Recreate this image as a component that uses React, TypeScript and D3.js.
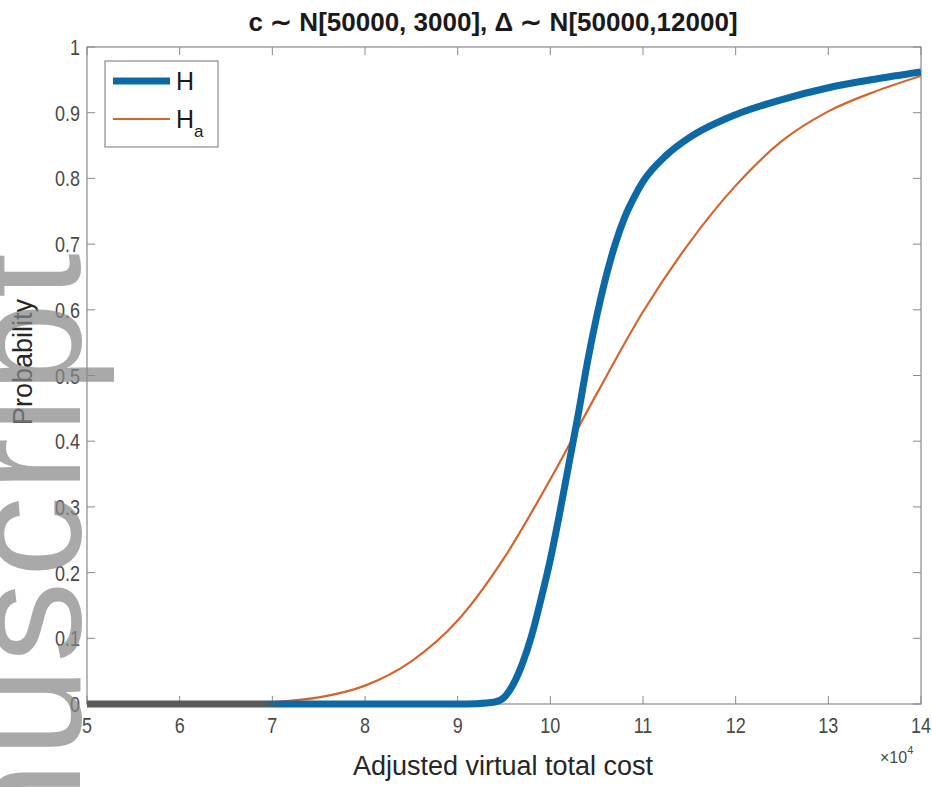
import React from "react";
import * as d3 from "d3";

const TITLE = "c \u223C N[50000, 3000], \u0394 \u223C N[50000,12000]";
const X_LABEL = "Adjusted virtual total cost";
const Y_LABEL = "Probability";
const WATERMARK = "Manuscript";

const X_TICKS = [50000, 60000, 70000, 80000, 90000, 100000, 110000, 120000, 130000, 140000];
const Y_TICKS = [0, 0.1, 0.2, 0.3, 0.4, 0.5, 0.6, 0.7, 0.8, 0.9, 1];

const H_X = [50000, 60000, 70000, 80000, 90000, 92000, 94000, 95000, 96000, 97000, 98000, 99000,
  100000, 101000, 102000, 103000, 104000, 105000, 106000, 107000, 108000, 109000, 110000,
  112500, 115000, 120000, 125000, 130000, 135000, 140000];
const H_Y = [0, 0, 0, 0, 0, 0.0005, 0.003, 0.01, 0.03, 0.062, 0.105, 0.16,
  0.22, 0.29, 0.365, 0.44, 0.52, 0.59, 0.65, 0.7, 0.74, 0.77, 0.795,
  0.835, 0.862, 0.897, 0.92, 0.938, 0.951, 0.962];

const HA_X = [50000, 60000, 65000, 70000, 75000, 80000, 85000, 90000, 95000, 100000, 105000,
  110000, 115000, 120000, 125000, 130000, 135000, 140000];
const HA_Y = [0, 0, 0.001, 0.003, 0.01, 0.028, 0.065, 0.127, 0.222, 0.342, 0.472,
  0.597, 0.702, 0.789, 0.857, 0.902, 0.932, 0.956];

const W = 932;
const H = 787;
const M = { left: 87, right: 921, top: 47, bottom: 704 };
const BLUE = "#0d68a6";
const ORANGE = "#d4652c";

export default function App() {
  const x = d3.scaleLinear().domain([50000, 140000]).range([M.left, M.right]);
  const y = d3.scaleLinear().domain([0, 1]).range([M.bottom, M.top]);
  const line = d3.line<[number, number]>()
    .x((d) => x(d[0]))
    .y((d) => y(d[1]))
    .curve(d3.curveMonotoneX);
  const hPath = line(H_X.map((v, i) => [v, H_Y[i]] as [number, number])) || "";
  const haPath = line(HA_X.map((v, i) => [v, HA_Y[i]] as [number, number])) || "";
  const tickLen = 8;
  const tickFont = "Helvetica, Arial, 'Liberation Sans', sans-serif";
  const fmtX = (v: number) => String(v / 10000);
  const fmtY = (v: number) => (v === 0 ? "0" : v === 1 ? "1" : v.toFixed(1));
  const gStart = x(69000);
  const gEnd = x(71000);

  return (
    <svg width={W} height={H} style={{ position: "absolute", left: 0, top: 0, background: "#fff" }}
      fontFamily={tickFont}>
      <defs>
        <linearGradient id="hgrad" gradientUnits="userSpaceOnUse" x1={gStart} x2={gEnd} y1={0} y2={0}>
          <stop offset="0" stopColor="#5a5a5a" />
          <stop offset="1" stopColor={BLUE} />
        </linearGradient>
        <clipPath id="plotclip">
          <rect x={M.left} y={M.top - 5} width={M.right - M.left} height={M.bottom - M.top + 10} />
        </clipPath>
      </defs>
      <rect x={0} y={0} width={W} height={H} fill="#fff" />

      {/* axes box */}
      <rect x={M.left} y={M.top} width={M.right - M.left} height={M.bottom - M.top}
        fill="none" stroke="#8a8a8a" strokeWidth={1.2} />

      {/* x ticks */}
      {X_TICKS.map((t) => (
        <g key={"xt" + t}>
          <line x1={x(t)} x2={x(t)} y1={M.bottom} y2={M.bottom - tickLen} stroke="#8a8a8a" />
          <line x1={x(t)} x2={x(t)} y1={M.top} y2={M.top + tickLen} stroke="#8a8a8a" />
          <text transform={`translate(${x(t)},${M.bottom + 29}) scale(1,1.25)`} textAnchor="middle"
            fontSize={18} fill="#4a4a4a">{fmtX(t)}</text>
        </g>
      ))}
      {/* y ticks */}
      {Y_TICKS.map((t) => (
        <g key={"yt" + t}>
          <line x1={M.left} x2={M.left + tickLen} y1={y(t)} y2={y(t)} stroke="#8a8a8a" />
          <line x1={M.right} x2={M.right - tickLen} y1={y(t)} y2={y(t)} stroke="#8a8a8a" />
          <text transform={`translate(${M.left - 7},${y(t) + 8}) scale(1,1.25)`} textAnchor="end"
            fontSize={18} fill="#4a4a4a">{fmtY(t)}</text>
        </g>
      ))}
      {/* x10^4 */}
      <text x={880} y={763} fontSize={16} fill="#4a4a4a">
        {"\u00D710"}
        <tspan dy={-9} fontSize={11}>4</tspan>
      </text>

      {/* curves */}
      <g clipPath="url(#plotclip)">
        <path d={haPath} fill="none" stroke={ORANGE} strokeWidth={2.2} />
        <path d={hPath} fill="none" stroke="url(#hgrad)" strokeWidth={7} strokeLinejoin="round" />
      </g>

      {/* legend */}
      <rect x={105} y={61} width={113} height={86} fill="#fff" stroke="#8a8a8a" strokeWidth={1.2} />
      <line x1={113} x2={170} y1={81} y2={81} stroke={BLUE} strokeWidth={7} />
      <line x1={113} x2={170} y1={119} y2={119} stroke={ORANGE} strokeWidth={2.2} />
      <text x={176} y={90} fontSize={25} fill="#1a1a1a">H</text>
      <text x={176} y={128} fontSize={25} fill="#1a1a1a">
        H<tspan dy={9} fontSize={17}>a</tspan>
      </text>

      {/* title & labels */}
      <text x={493} y={31} textAnchor="middle" fontSize={26} fontWeight="bold" fill="#1a1a1a">{TITLE}</text>
      <text x={503} y={775} textAnchor="middle" fontSize={27} fill="#262626">{X_LABEL}</text>
      <text transform="translate(32,362) rotate(-90)" textAnchor="middle" fontSize={27} fill="#262626">{Y_LABEL}</text>

      {/* watermark */}
      <text transform="translate(80,1086) rotate(-90)" fontFamily="'Liberation Sans', Arial, sans-serif"
        fontSize={162} letterSpacing={4.5} fill="#888" opacity={0.72}>{WATERMARK}</text>
    </svg>
  );
}
